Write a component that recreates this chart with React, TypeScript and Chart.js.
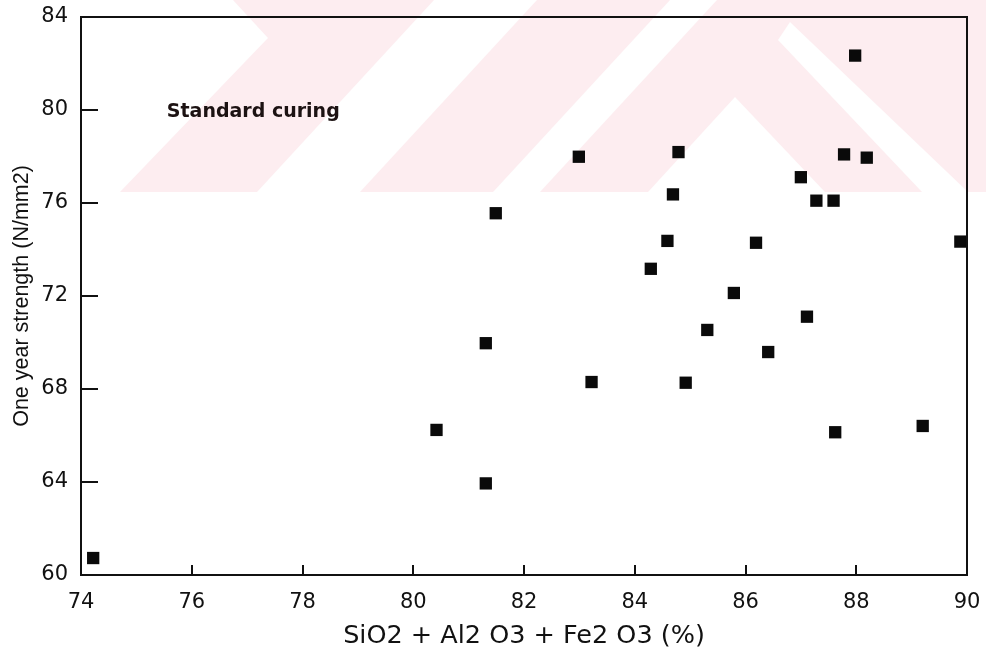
import React, { useEffect, useRef } from "react";
import { Chart, registerables } from "chart.js";

Chart.register(...registerables);

// SiO2 + Al2O3 + Fe2O3 (%)
const oxideSum = [
  74.22, 80.42, 81.31, 81.31, 81.49, 82.99, 83.22, 84.29, 84.59, 84.69, 84.79, 84.92, 85.31,
  85.79, 86.19, 86.41, 87.0, 87.11, 87.28, 87.59, 87.62, 87.78, 87.98, 88.19, 89.2, 89.88,
];
// One year strength (N/mm2)
const oneYearStrength = [
  60.73, 66.24, 69.97, 63.94, 75.56, 77.99, 68.3, 73.17, 74.37, 76.37, 78.19, 68.27, 70.54,
  72.13, 74.29, 69.59, 77.11, 71.11, 76.1, 76.1, 66.14, 78.09, 82.34, 77.95, 66.41, 74.34,
];
const xTickValues = [74, 76, 78, 80, 82, 84, 86, 88, 90];
const yTickValues = [60, 64, 68, 72, 76, 80, 84];
const xTitle = "SiO2 + Al2 O3 + Fe2 O3 (%)";
const yTitle = "One year strength (N/mm2)";
const annotationText = "Standard curing";
const annotationX = 75.55;
const annotationY = 79.9;

const INK = "#111111";
const PINK = "#fdedf0";

const watermarkPlugin = {
  id: "watermark",
  beforeDraw(chart: any) {
    const ctx = chart.ctx;
    const poly = (pts: number[][], color: string) => {
      ctx.beginPath();
      ctx.moveTo(pts[0][0], pts[0][1]);
      for (let i = 1; i < pts.length; i++) ctx.lineTo(pts[i][0], pts[i][1]);
      ctx.closePath();
      ctx.fillStyle = color;
      ctx.fill();
    };
    ctx.save();
    ctx.fillStyle = "#ffffff";
    ctx.fillRect(0, 0, chart.width, chart.height);
    poly([[120, 192], [268, 38], [233, 0], [434, 0], [257, 192]], PINK);
    poly([[360, 192], [537, 0], [670, 0], [493, 192]], PINK);
    poly([[540, 192], [717, 0], [986, 0], [986, 192]], PINK);
    poly([[735, 97], [648, 192], [825, 192]], "#ffffff");
    poly([[790, 22], [968, 192], [922, 192], [778, 40]], "#ffffff");
    ctx.restore();
  },
};

const framePlugin = {
  id: "frame",
  afterDraw(chart: any) {
    const { ctx, chartArea: a } = chart;
    const xs = chart.scales.x;
    const ys = chart.scales.y;
    ctx.save();
    ctx.strokeStyle = INK;
    ctx.lineWidth = 2;
    ctx.strokeRect(a.left, a.top, a.right - a.left, a.bottom - a.top);
    ctx.beginPath();
    ys.ticks.forEach((t: any) => {
      if (t.value <= ys.min || t.value >= ys.max) return;
      const py = Math.round(ys.getPixelForValue(t.value));
      ctx.moveTo(a.left, py);
      ctx.lineTo(a.left + 17, py);
    });
    xs.ticks.forEach((t: any) => {
      if (t.value <= xs.min || t.value >= xs.max) return;
      const px = Math.round(xs.getPixelForValue(t.value));
      ctx.moveTo(px, a.bottom);
      ctx.lineTo(px, a.bottom - 10);
    });
    ctx.stroke();
    ctx.font = 'bold 19px "DejaVu Sans"';
    ctx.fillStyle = "#1c1212";
    ctx.textAlign = "left";
    ctx.textBaseline = "middle";
    ctx.fillText(annotationText, xs.getPixelForValue(annotationX), ys.getPixelForValue(annotationY));
    ctx.restore();
  },
};

export default function App() {
  const ref = useRef<HTMLCanvasElement | null>(null);
  useEffect(() => {
    if (!ref.current) return;
    const chart = new Chart(ref.current, {
      type: "scatter",
      data: {
        datasets: [
          {
            label: "Standard curing",
            data: oxideSum.map((x, i) => ({ x, y: oneYearStrength[i] })),
            pointStyle: "rect",
            pointRadius: 8.7,
            pointHoverRadius: 8.7,
            backgroundColor: "#0a0a0a",
            borderColor: "#0a0a0a",
            borderWidth: 0,
          },
        ],
      },
      options: {
        animation: false,
        responsive: false,
        events: [],
        layout: { padding: { top: 17, right: 19, left: 0, bottom: 0 } },
        plugins: { legend: { display: false }, tooltip: { enabled: false } },
        scales: {
          x: {
            type: "linear",
            min: xTickValues[0],
            max: xTickValues[xTickValues.length - 1],
            afterBuildTicks: (s: any) => {
              s.ticks = xTickValues.map((v) => ({ value: v }));
            },
            afterFit: (s: any) => {
              s.height = 77;
              s.paddingLeft = 0;
              s.paddingRight = 0;
              s.paddingTop = 0;
              s.paddingBottom = 0;
            },
            grid: { display: false, drawTicks: false },
            border: { display: false },
            ticks: {
              padding: 15,
              color: INK,
              maxRotation: 0,
              autoSkip: false,
              font: { family: '"DejaVu Sans"', size: 21 },
            },
            title: {
              display: true,
              text: xTitle,
              color: INK,
              font: { family: '"DejaVu Sans"', size: 25.5 },
              padding: { top: 0, bottom: 0 },
            },
          },
          y: {
            type: "linear",
            min: yTickValues[0],
            max: yTickValues[yTickValues.length - 1],
            afterBuildTicks: (s: any) => {
              s.ticks = yTickValues.map((v) => ({ value: v }));
            },
            afterFit: (s: any) => {
              s.width = 81;
              s.paddingLeft = 0;
              s.paddingRight = 0;
              s.paddingTop = 0;
              s.paddingBottom = 0;
            },
            grid: { display: false, drawTicks: false },
            border: { display: false },
            ticks: {
              padding: 13,
              color: INK,
              autoSkip: false,
              font: { family: '"DejaVu Sans"', size: 21 },
            },
            title: {
              display: true,
              text: yTitle,
              color: INK,
              font: { family: '"Liberation Sans", Arial, sans-serif', size: 21.5 },
              padding: { top: 9, bottom: 0 },
            },
          },
        },
      },
      plugins: [watermarkPlugin, framePlugin],
    });
    return () => chart.destroy();
  }, []);
  return (
    <div style={{ position: "fixed", left: 0, top: 0, width: 986, height: 652, background: "#fff" }}>
      <canvas ref={ref} width={986} height={652} />
    </div>
  );
}
